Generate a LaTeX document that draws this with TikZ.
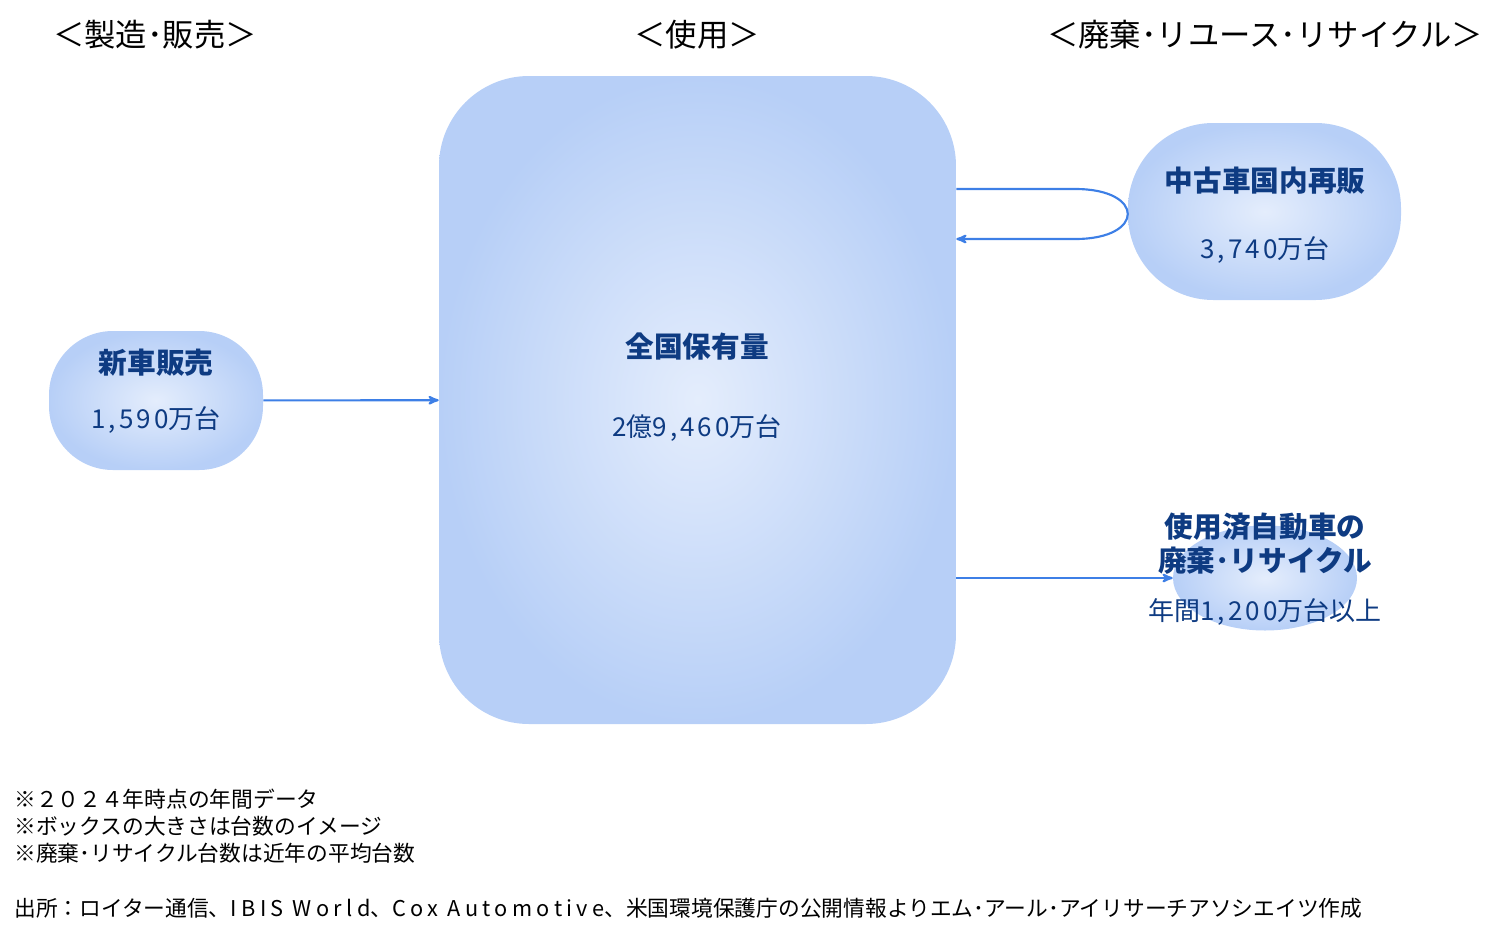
\documentclass[tikz,border=0pt]{standalone}
\usepackage{fontspec}
\setmainfont{Noto Sans CJK JP}
\newfontfamily\amountfont{Noto Sans CJK JP}[LetterSpace=12]
\newfontfamily\spacedfont{Noto Sans CJK JP}[LetterSpace=20]
\newcommand{\num}[1]{{\amountfont #1}}
\usepackage{tikz}
\usetikzlibrary{shapes,arrows}
\usetikzlibrary{calc}
\usetikzlibrary{positioning}
\definecolor{navy}{HTML}{0E3B82}
\definecolor{flowblue}{HTML}{3D7FE6}
\definecolor{boxin}{HTML}{E4EDFC}
\definecolor{boxout}{HTML}{B7CFF7}
\tikzstyle{stock} = [rectangle, inner color=boxin, outer color=boxout, inner sep=0pt]
\tikzstyle{title} = [text=navy, font=\fontsize{21.5}{25.5}\selectfont\bfseries, align=center]
\tikzstyle{amount} = [text=navy, font=\fontsize{19.5}{23}\selectfont]
\tikzstyle{stage} = [font=\fontsize{23.5}{27}\selectfont]
\tikzstyle{note} = [font=\fontsize{16.3}{20}\selectfont, anchor=west, inner sep=0pt]
\tikzstyle{flow} = [draw=flowblue, line width=1.6pt, ->]

\begin{document}
\begin{tikzpicture}[x=0.75pt, y=-0.75pt, >=stealth']
    \useasboundingbox (0,0) rectangle (1505,935);

    % stage headings
    \node [stage] (make) at (155,35) {＜製造･販売＞};
    \node [stage] (use) at (697,35) {＜使用＞};
    \node [stage] (end) at (1265,35) {＜廃棄･リユース･リサイクル＞};

    % the stocks
    \node [stock, minimum width=387.75pt, minimum height=486pt, rounded corners=67.5pt] (bigbox) at (697.5,400) {};
    \node [stock, minimum width=160.5pt, minimum height=104.25pt, rounded corners=48pt] (newcar) at (156,400.5) {};
    \node [stock, minimum width=204.75pt, minimum height=132.75pt, rounded corners=64pt] (resale) at (1264.5,211.5) {};
    \node [stock, ellipse, minimum width=138pt, minimum height=78.75pt] (recycle) at (1265,578) {};

    % their texts
    \node [title] (bigboxtitle) at (697,347) {全国保有量};
    \node [amount] (bigboxamount) at (697,428) {\num{2}億\num{9,460}万台};
    \node [title] (newcartitle) at (156,363) {新車販売};
    \node [amount] (newcaramount) at (156,420) {\num{1,590}万台};
    \node [title] (resaletitle) at (1265,181) {中古車国内再販};
    \node [amount] (resaleamount) at (1265,250) {\num{3,740}万台};
    \node [title] (recycletitle) at (1265,544) {使用済自動車の\\廃棄･リサイクル};
    \node [amount] (recycleamount) at (1265,612) {年間\num{1,200}万台以上};

    % flows
    \draw [flow] (newcar) -- (bigbox);
    \draw [flow] (bigbox.east |- recycle) -- (recycle);
    \draw [flow] ($(bigbox.east)+(0,-211)$) -- ++(119,0)
        .. controls +(70,0) and +(70,0) .. ++(0,50) -- ($(bigbox.east)+(0,-161)$);

    % notes
    \node [note] (note1) at (14,799) {※２０２４年時点の年間データ};
    \node [note] (note2) at (14,826) {※ボックスの大きさは台数のイメージ};
    \node [note] (note3) at (14,853) {※廃棄･リサイクル台数は近年の平均台数};
    \node [note] (source) at (14,908) {出所：ロイター通信、{\spacedfont IBIS World}、{\spacedfont Cox Automotive}、米国環境保護庁の公開情報よりエム･アール･アイリサーチアソシエイツ作成};
\end{tikzpicture}
\end{document}
